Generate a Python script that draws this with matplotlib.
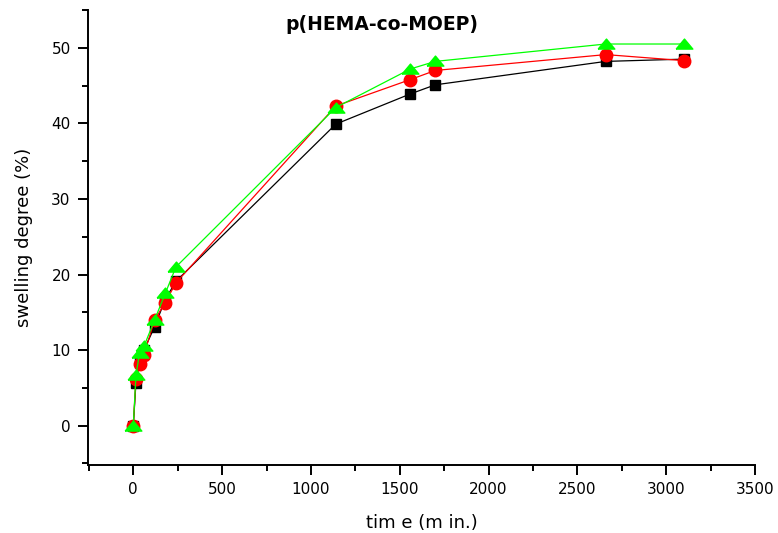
import matplotlib
matplotlib.use("Agg")
import matplotlib.pyplot as plt
from matplotlib.ticker import MultipleLocator

plt.rcParams['font.family'] = ['DejaVu Sans']

# swelling data, time in minutes
time = [0, 15, 35, 60, 120, 180, 240, 1140, 1560, 1700, 2660, 3100]
black_sq = [0, 5.7, 8.5, 10.0, 13.1, 16.7, 19.1, 39.9, 43.9, 45.1, 48.2, 48.5]
red_circ = [0, 6.2, 8.1, 9.4, 14.0, 16.3, 18.9, 42.3, 45.8, 47.0, 49.1, 48.3]
green_tri = [0, 6.7, 9.6, 10.5, 14.0, 17.5, 21.0, 42.1, 47.2, 48.2, 50.5, 50.5]

# flat triangle like the original software draws
tri = [(-1, -0.55), (1, -0.55), (0, 0.65), (-1, -0.55)]

fig = plt.figure(figsize=(7.78, 5.33), dpi=100)
ax = fig.add_axes([88/778, 68/533, (755-88)/778, (465-10)/533])

ax.plot(time, black_sq, color='black', lw=0.9, marker='s', ms=7.7, zorder=3)
ax.plot(time, red_circ, color='red', lw=0.9, marker='o', ms=9, zorder=4)
ax.plot(time, green_tri, color='#00ff00', lw=0.9, marker=tri, ms=12, zorder=5)

ax.set_xlim(-255, 3500)
ax.set_ylim(-5.2, 55)
ax.xaxis.set_major_locator(MultipleLocator(500))
ax.xaxis.set_minor_locator(MultipleLocator(250))
ax.yaxis.set_major_locator(MultipleLocator(10))
ax.yaxis.set_minor_locator(MultipleLocator(5))

ax.spines['top'].set_visible(False)
ax.spines['right'].set_visible(False)
ax.spines['left'].set_linewidth(1.4)
ax.spines['bottom'].set_linewidth(1.4)
ax.tick_params(which='major', direction='out', length=7.5, width=1.4,
               labelsize=11, pad=5)
ax.tick_params(which='minor', direction='out', length=4, width=1.4)

ax.set_xlabel('tim e (m in.)', fontsize=13, labelpad=12)
ax.set_ylabel('swelling degree (%)', fontsize=13, labelpad=13)
fig.text(382/778, 1 - 25/533, 'p(HEMA-co-MOEP)', ha='center', va='center',
         fontsize=13.5, fontweight='bold')

fig.savefig('out.png', dpi=100)
